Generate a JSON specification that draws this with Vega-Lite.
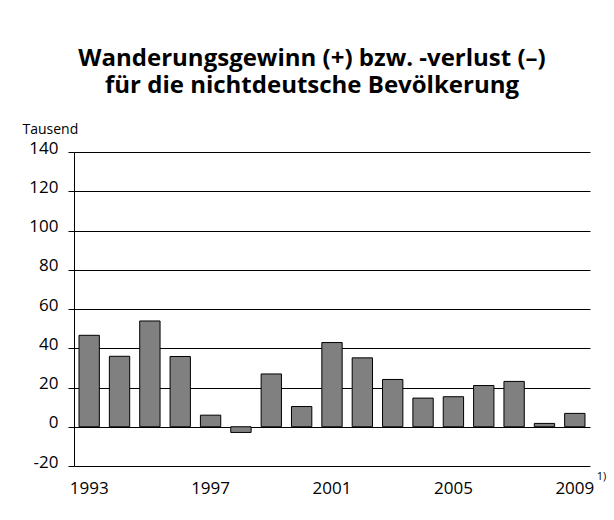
{
  "$schema": "https://vega.github.io/schema/vega-lite/v6.json",
  "width": 516,
  "height": 314,
  "autosize": {"type": "none"},
  "padding": {"left": 74, "top": 152, "right": 24, "bottom": 54},
  "background": "white",
  "title": {
    "text": ["Wanderungsgewinn (+) bzw. -verlust (–)", "für die nichtdeutsche Bevölkerung"],
    "font": "Open Sans",
    "fontSize": 24,
    "fontWeight": "bold",
    "lineHeight": 27,
    "color": "black",
    "anchor": "middle",
    "dx": -20,
    "offset": 24
  },
  "config": {
    "view": {"stroke": null},
    "font": "Open Sans"
  },
  "layer": [
    {
      "data": {
        "values": [
          {"year": 1993, "value": 46.6},
          {"year": 1994, "value": 35.9},
          {"year": 1995, "value": 53.9},
          {"year": 1996, "value": 35.8},
          {"year": 1997, "value": 5.9},
          {"year": 1998, "value": -2.9},
          {"year": 1999, "value": 26.9},
          {"year": 2000, "value": 10.3},
          {"year": 2001, "value": 42.9},
          {"year": 2002, "value": 35.1},
          {"year": 2003, "value": 24.1},
          {"year": 2004, "value": 14.6},
          {"year": 2005, "value": 15.3},
          {"year": 2006, "value": 21.0},
          {"year": 2007, "value": 23.1},
          {"year": 2008, "value": 1.7},
          {"year": 2009, "value": 6.8}
        ]
      },
      "mark": {"type": "bar", "fill": "#808080", "stroke": "black", "strokeWidth": 1},
      "encoding": {
        "x": {
          "field": "year",
          "type": "ordinal",
          "scale": {"paddingInner": 0.33, "paddingOuter": 0.165},
          "axis": {
            "title": null,
            "values": [1993, 1997, 2001, 2005, 2009],
            "labelAngle": 0,
            "labelOverlap": false,
            "domain": false,
            "ticks": false,
            "labelFontSize": 17,
            "labelColor": "black",
            "labelBaseline": "alphabetic",
            "labelPadding": 27
          }
        },
        "y": {
          "field": "value",
          "type": "quantitative",
          "scale": {"domain": [-20, 140], "nice": false},
          "axis": {
            "title": "Tausend",
            "titleAngle": 0,
            "titleAlign": "left",
            "titleBaseline": "alphabetic",
            "titleX": -52,
            "titleY": -19,
            "titleFontSize": 14,
            "titleFontWeight": "normal",
            "titleColor": "black",
            "values": [-20, 0, 20, 40, 60, 80, 100, 120, 140],
            "labelExpr": "'' + datum.value",
            "labelOverlap": false,
            "labelFontSize": 17,
            "labelColor": "black",
            "labelBaseline": "alphabetic",
            "labelOffset": 1,
            "labelPadding": 10,
            "tickSize": 6,
            "tickColor": "black",
            "domainColor": "black",
            "gridColor": "black",
            "gridOpacity": 1,
            "grid": true
          }
        }
      }
    },
    {
      "data": {"values": [{"year": 2009, "note": "1)"}]},
      "mark": {"type": "text", "align": "left", "baseline": "alphabetic", "dx": 22, "dy": 14, "fontSize": 11, "color": "black"},
      "encoding": {
        "x": {
          "field": "year",
          "type": "ordinal",
          "axis": {
            "title": null,
            "values": [1993, 1997, 2001, 2005, 2009],
            "labelAngle": 0,
            "labelOverlap": false,
            "domain": false,
            "ticks": false,
            "labelFontSize": 17,
            "labelColor": "black",
            "labelBaseline": "alphabetic",
            "labelPadding": 27
          }
        },
        "y": {
          "datum": -20,
          "type": "quantitative",
          "axis": {
            "title": "Tausend",
            "titleAngle": 0,
            "titleAlign": "left",
            "titleBaseline": "alphabetic",
            "titleX": -52,
            "titleY": -19,
            "titleFontSize": 14,
            "titleFontWeight": "normal",
            "titleColor": "black",
            "values": [-20, 0, 20, 40, 60, 80, 100, 120, 140],
            "labelExpr": "'' + datum.value",
            "labelOverlap": false,
            "labelFontSize": 17,
            "labelColor": "black",
            "labelBaseline": "alphabetic",
            "labelOffset": 1,
            "labelPadding": 10,
            "tickSize": 6,
            "tickColor": "black",
            "domainColor": "black",
            "gridColor": "black",
            "gridOpacity": 1,
            "grid": true
          }
        },
        "text": {"field": "note"}
      }
    }
  ]
}
